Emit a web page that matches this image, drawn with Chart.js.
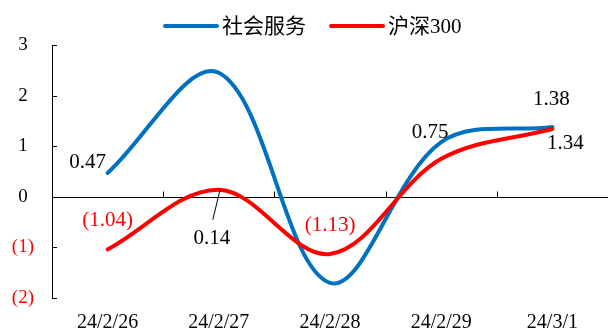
<!DOCTYPE html>
<html>
<head>
<meta charset="utf-8">
<script src="https://cdn.jsdelivr.net/npm/chart.js@4"></script>
<style>
  html, body { margin: 0; padding: 0; background: #fff; }
  #wrap { width: 609px; height: 334px; }
</style>
</head>
<body>
<div id="wrap"><canvas id="c" width="609" height="334"></canvas></div>
<script>
// ---- data ----
const categories = ['24/2/26', '24/2/27', '24/2/28', '24/2/29', '24/3/1'];
const socialService = [0.47, 2.45, -1.70, 1.08, 1.38];
const csi300 = [-1.04, 0.14, -1.13, 0.75, 1.34];
const seriesNames = ['社会服务', '沪深300'];
const yTickValues = [-2, -1, 0, 1, 2, 3];

// ---- style ----
const BLUE = '#0070C0';
const RED = '#FF0000';
const SERIF = '"Liberation Serif", "Times New Roman", serif';
const LEGEND_FONT = '21px "Liberation Serif", "Noto Sans CJK SC", serif';

function fmt(v) {
  const s = Math.abs(v).toFixed(2);
  return v < 0 ? '(' + s + ')' : s;
}

// label placement (offsets from the point, in px)
const labelSpecs = [
  { ds: 0, i: 0, dx: -20, dy: -11 },
  { ds: 0, i: 4, dx: -1, dy: -27 },
  { ds: 1, i: 0, dx: 0, dy: -29 },
  { ds: 1, i: 1, dx: -7, dy: 49, leader: [1, 1, -6, 30] },
  { ds: 1, i: 2, dx: 0, dy: -28 },
  { ds: 1, i: 3, dx: -11, dy: -26 },
  { ds: 1, i: 4, dx: 13, dy: 14 }
];

const decorPlugin = {
  id: 'decor',
  beforeDatasetsDraw(chart) {
    const { ctx, chartArea, scales } = chart;
    const x = scales.x, y = scales.y;
    const y0 = Math.round(y.getPixelForValue(0)) + 0.5;
    ctx.save();
    ctx.strokeStyle = '#000';
    ctx.lineWidth = 1;
    // zero axis line
    ctx.beginPath();
    ctx.moveTo(chartArea.left, y0);
    ctx.lineTo(chartArea.right, y0);
    ctx.stroke();
    // category boundary tick marks (upward)
    const n = categories.length;
    ctx.beginPath();
    for (let i = 0; i < n; i++) {
      const bx = Math.round((x.getPixelForValue(i) + x.getPixelForValue(i + 1)) / 2) + 0.5;
      if (i < n - 1) {
        ctx.moveTo(bx, y0);
        ctx.lineTo(bx, y0 - 6);
      }
    }
    ctx.stroke();
    // y-axis inward ticks
    ctx.beginPath();
    yTickValues.forEach(v => {
      const ty = Math.round(y.getPixelForValue(v)) + 0.5;
      ctx.moveTo(chartArea.left, ty);
      ctx.lineTo(chartArea.left + 5, ty);
    });
    ctx.stroke();
    ctx.restore();
  },
  afterDatasetsDraw(chart) {
    const { ctx } = chart;
    ctx.save();
    ctx.font = '21px ' + SERIF;
    ctx.textAlign = 'center';
    ctx.textBaseline = 'middle';
    labelSpecs.forEach(s => {
      const el = chart.getDatasetMeta(s.ds).data[s.i];
      const v = chart.data.datasets[s.ds].data[s.i];
      ctx.fillStyle = v < 0 ? RED : '#000';
      ctx.fillText(fmt(v), el.x + s.dx, el.y + s.dy);
      if (s.leader) {
        ctx.strokeStyle = '#000';
        ctx.lineWidth = 1;
        ctx.beginPath();
        ctx.moveTo(el.x + s.leader[0], el.y + s.leader[1]);
        ctx.lineTo(el.x + s.leader[2], el.y + s.leader[3]);
        ctx.stroke();
      }
    });
    // legend
    const items = [
      { x: 165, color: BLUE, text: chart.data.datasets[0].label },
      { x: 331, color: RED, text: chart.data.datasets[1].label }
    ];
    const ly = 26;
    ctx.font = LEGEND_FONT;
    ctx.textAlign = 'left';
    items.forEach(it => {
      ctx.strokeStyle = it.color;
      ctx.lineWidth = 4;
      ctx.lineCap = 'round';
      ctx.beginPath();
      ctx.moveTo(it.x, ly);
      ctx.lineTo(it.x + 52, ly);
      ctx.stroke();
      ctx.fillStyle = '#000';
      ctx.fillText(it.text, it.x + 57, ly + 1);
    });
    ctx.restore();
  }
};

new Chart(document.getElementById('c'), {
  type: 'line',
  data: {
    labels: categories,
    datasets: [
      {
        label: seriesNames[0],
        data: socialService,
        borderColor: BLUE,
        backgroundColor: BLUE,
        borderWidth: 4,
        pointRadius: 0,
        tension: 0.35,
        order: 1,
        borderCapStyle: 'round'
      },
      {
        label: seriesNames[1],
        data: csi300,
        borderColor: RED,
        backgroundColor: RED,
        borderWidth: 4,
        pointRadius: 0,
        tension: 0.35,
        order: 0,
        borderCapStyle: 'round'
      }
    ]
  },
  options: {
    responsive: false,
    animation: false,
    devicePixelRatio: 1,
    layout: { padding: { top: 45, right: 1, left: 0, bottom: 0 } },
    plugins: {
      legend: { display: false },
      tooltip: { enabled: false }
    },
    scales: {
      x: {
        offset: true,
        grid: { display: false, drawTicks: false },
        border: { display: false },
        ticks: {
          color: '#000',
          font: { family: SERIF, size: 20 },
          padding: 13,
          maxRotation: 0,
          autoSkip: false
        },
        afterFit(scale) { scale.height = 36; }
      },
      y: {
        min: -2,
        max: 3,
        grid: { display: false, drawTicks: false },
        border: { display: true, color: '#000', width: 1 },
        afterBuildTicks(scale) {
          scale.ticks = yTickValues.map(v => ({ value: v }));
        },
        ticks: {
          crossAlign: 'center',
          padding: 18,
          font: { family: SERIF, size: 19 },
          color: ctx => (ctx.tick && ctx.tick.value < 0 ? RED : '#000'),
          callback: v => (v < 0 ? '(' + Math.abs(v) + ')' : String(v))
        },
        afterFit(scale) { scale.width = 52; }
      }
    }
  },
  plugins: [decorPlugin]
});
</script>
</body>
</html>
